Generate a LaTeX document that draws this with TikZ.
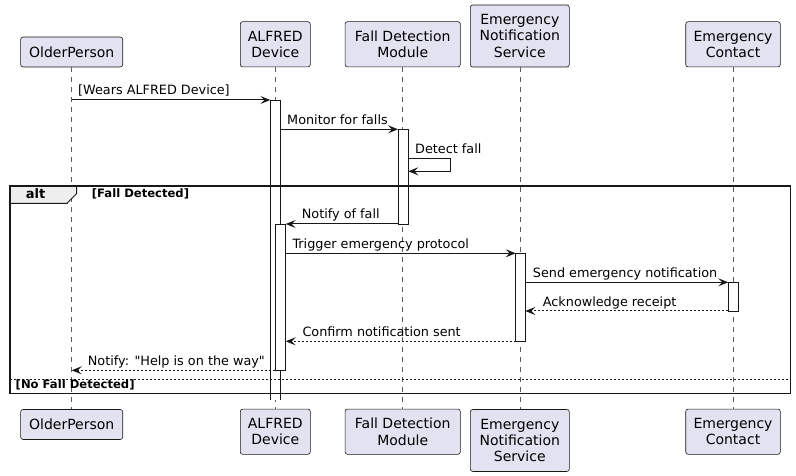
\documentclass[tikz,border=0pt]{standalone}
\usepackage{fontspec}
\setmainfont{DejaVu Sans}[Ligatures=TeXOff]
\usetikzlibrary{arrows.meta}
\definecolor{ink}{HTML}{181818}
\definecolor{partfill}{HTML}{E2E2F0}
\definecolor{tabfill}{HTML}{EEEEEE}
\begin{document}
\begin{tikzpicture}[x=1bp,y=-1bp,
  part/.style={draw=ink,fill=partfill,rounded corners=2.5bp,line width=0.6bp,
    align=center,inner sep=0pt,font=\fontsize{14bp}{16.3bp}\selectfont},
  lifeline/.style={draw=ink!70,line width=0.5bp,dash pattern=on 5bp off 5bp},
  actbar/.style={draw=ink,fill=white,line width=0.8bp},
  tip/.style={-{Stealth[length=10bp,width=8bp,inset=4bp]}},
  msg/.style={draw=ink,line width=1bp,tip},
  ret/.style={draw=ink,line width=1bp,dash pattern=on 2bp off 2bp,tip},
  lbl/.style={anchor=base west,inner sep=0pt,text=black,font=\fontsize{12.8bp}{15bp}\selectfont},
  guard/.style={anchor=base west,inner sep=0pt,text=black,font=\fontsize{11.6bp}{13bp}\selectfont\bfseries}
]
\useasboundingbox (0,0) rectangle (796,476);

% participants (top)
\node[part,minimum width=102bp,minimum height=30bp] (opT) at (71.7,52) {OlderPerson};
\node[part,minimum width=70bp,minimum height=45.3bp] (alT) at (275.3,44.3) {ALFRED\\Device};
\node[part,minimum width=115.3bp,minimum height=45.3bp] (fdT) at (402.7,44.3) {Fall Detection\\Module};
\node[part,minimum width=99bp,minimum height=62bp] (enT) at (519.8,36) {Emergency\\Notification\\Service};
\node[part,minimum width=94.6bp,minimum height=45.3bp] (ecT) at (733,44.3) {Emergency\\Contact};

% participants (bottom)
\node[part,minimum width=102bp,minimum height=30bp] (opB) at (71.7,424.5) {OlderPerson};
\node[part,minimum width=70bp,minimum height=45.3bp] (alB) at (275.3,431.7) {ALFRED\\Device};
\node[part,minimum width=115.3bp,minimum height=45.3bp] (fdB) at (402.7,431.7) {Fall Detection\\Module};
\node[part,minimum width=99bp,minimum height=62bp] (enB) at (519.8,440.5) {Emergency\\Notification\\Service};
\node[part,minimum width=94.6bp,minimum height=45.3bp] (ecB) at (733,431.7) {Emergency\\Contact};

% lifelines
\draw[lifeline] (opT.south) -- (opB.north);
\draw[lifeline] (alT.south) -- (alB.north);
\draw[lifeline] (fdT.south) -- (fdB.north);
\draw[lifeline] (enT.south) -- (enB.north);
\draw[lifeline] (ecT.south) -- (ecB.north);

% activation bars
\fill[white] (270.3,100) rectangle (280.3,400);
\draw[ink,line width=0.8bp] (270.3,400) -- (270.3,100) -- (280.3,100) -- (280.3,400);
\draw[actbar] (398,129.3) rectangle (408.3,224);
\draw[actbar] (275.3,224.3) rectangle (285.7,370);
\draw[actbar] (515.7,253.3) rectangle (525.3,341.3);
\draw[actbar] (728.3,282.3) rectangle (738.3,311);

% message endpoints
\coordinate (m1s) at (71.7,100);   \coordinate (m1e) at (270.3,100);
\coordinate (m2s) at (280.3,129.3); \coordinate (m2e) at (398,129.3);
\coordinate (m3a) at (408.3,158.3); \coordinate (m3b) at (450.7,158.3);
\coordinate (m3c) at (450.7,171.3); \coordinate (m3e) at (408.3,171.3);
\coordinate (m4s) at (398,224);    \coordinate (m4e) at (285.7,224);
\coordinate (m5s) at (285.7,253.3); \coordinate (m5e) at (515.7,253.3);
\coordinate (m6s) at (525.3,282.3); \coordinate (m6e) at (728.3,282.3);
\coordinate (m7s) at (728.3,311);  \coordinate (m7e) at (525.3,311);
\coordinate (m8s) at (515.7,341.3); \coordinate (m8e) at (285.7,341.3);
\coordinate (m9s) at (275.3,370.3); \coordinate (m9e) at (71.7,370.3);

% messages
\draw[msg] (m1s) -- (m1e);
\node[lbl] (t1) at (78,95) {[Wears ALFRED Device]};
\draw[msg] (m2s) -- (m2e);
\node[lbl] (t2) at (287,124.5) {Monitor for falls};
\draw[msg] (m3a) -- (m3b) -- (m3c) -- (m3e);
\node[lbl] (t3) at (415,153.3) {Detect fall};
\draw[msg] (m4s) -- (m4e);
\node[lbl] (t4) at (301.7,219) {Notify of fall};
\draw[msg] (m5s) -- (m5e);
\node[lbl] (t5) at (292.3,248.5) {Trigger emergency protocol};
\draw[msg] (m6s) -- (m6e);
\node[lbl] (t6) at (532.7,277.5) {Send emergency notification};
\draw[ret] (m7s) -- (m7e);
\node[lbl] (t7) at (542.7,306.3) {Acknowledge receipt};
\draw[ret] (m8s) -- (m8e);
\node[lbl] (t8) at (302.3,336.5) {Confirm notification sent};
\draw[ret] (m9s) -- (m9e);
\node[lbl] (t9) at (87.7,365.5) {Notify: "Help is on the way"};

% alt frame
\draw[ink,line width=1bp,fill=tabfill] (10,186) -- (76.7,186) -- (76.7,193.5) -- (67,203.3) -- (10,203.3) -- cycle;
\node[anchor=base,inner sep=0pt,font=\fontsize{13bp}{15bp}\selectfont\bfseries] (altlbl) at (35.5,199) {alt};
\node[guard] (g1) at (91.7,197.3) {[Fall Detected]};
\draw[ink,line width=1bp,dash pattern=on 2bp off 2bp] (10,379.3) -- (790.7,379.3);
\node[guard] (g2) at (15.5,388.5) {[No Fall Detected]};
\draw[ink,line width=1.5bp] (10,186) rectangle (790.7,393.3);
\end{tikzpicture}
\end{document}
